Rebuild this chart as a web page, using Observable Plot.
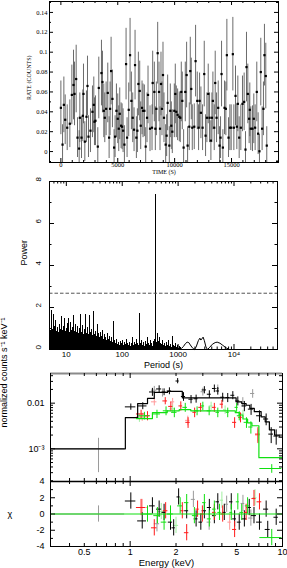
<!DOCTYPE html>
<html>
<head>
<meta charset="utf-8">
<script src="https://cdn.jsdelivr.net/npm/d3@7"></script>
<script src="https://cdn.jsdelivr.net/npm/@observablehq/plot@0.6"></script>
<style>
html,body{margin:0;padding:0;background:#fff;}
body{width:287px;height:568px;position:relative;overflow:hidden;}
.panel{position:absolute;left:0;width:287px;}
svg text{fill:#000;}
</style>
</head>
<body>
<div id="lc" class="panel" style="top:0px"></div>
<div id="psd" class="panel" style="top:172px"></div>
<div id="spec" class="panel" style="top:368px"></div>
<div id="res" class="panel" style="top:481px"></div>
<script>
// ---------------- Light curve data ----------------
const lcTime = [0,146,263,380,556,789,965,1111,1199,1345,
  1462,1608,1667,1813,1930,1988,2105,2251,2339,2427,
  2602,2778,2895,2953,3041,3246,3333,3567,3655,3772,
  3860,3977,4123,4240,4327,4415,4532,4678,4766,4883,
  5000,5088,5175,5292,5380,5468,5585,5731,5819,5965,
  6082,6199,6316,6433,6520,6637,6725,6813,6930,7018,
  7135,7222,7339,7456,7573,7661,7836,8012,8070,8216,
  8304,8392,8509,8626,8714,8801,8889,8977,9064,9211,
  9298,9386,9532,9620,9708,9795,9971,10058,10146,10263,
  10409,10497,10585,10673,10789,10936,11053,11140,11287,11374,
  11462,11550,11725,11842,11988,12105,12193,12310,12456,12602,
  12719,12836,12953,13070,13187,13275,13363,13480,13567,13684,
  13830,13947,14035,14123,14240,14386,14503,14591,14737,14854,
  14971,15117,15205,15351,15468,15556,15673,15819,15965,16111,
  16228,16316,16433,16550,16608,16696,16842,16959,17076,17222,
  17339,17456,17573,17690,17807,17895,18012,18099];
const lcRate = [.044,.007,.047,.032,.024,.028,.057,.067,.058,.073,
  .014,.003,.034,.014,.036,.058,.010,.035,.066,.015,
  .021,.040,.047,.030,.031,.005,.064,.079,.070,.041,
  .034,.043,.059,.014,.043,.081,.053,.004,.015,.041,
  .033,.023,.038,.026,.025,.021,.007,.088,.014,.042,
  .097,.051,.034,.022,.087,.014,.021,.068,.061,.026,
  .044,.041,.041,.005,.034,.057,.023,.024,.069,.060,
  .023,.043,.099,.060,.023,.068,.043,.077,.034,.007,
  .016,.049,.006,.041,.026,.020,.041,.058,.040,.037,
  .035,.034,.060,.051,.004,.060,.077,.006,.025,.081,
  .063,.024,.025,.091,.051,.024,.051,.039,.024,.078,
  .016,.034,.058,.034,.011,.034,.051,.024,.069,.034,
  .044,.006,.014,.078,.004,.044,.043,.097,.014,.024,
  .024,.098,.024,.056,.025,.048,.014,.024,.048,.050,
  .002,.085,.058,.033,.042,.023,.023,.033,.024,.060,
  .018,.0003,.080,.023,.043,.097,.076,.006];
const lcErr = [.027,.02,.028,.025,.023,.024,.03,.035,.032,.034,
  .02,.018,.025,.021,.026,.03,.02,.026,.03,.021,
  .022,.026,.028,.024,.025,.019,.031,.033,.031,.027,
  .025,.027,.03,.021,.027,.034,.029,.018,.021,.027,
  .025,.023,.026,.023,.023,.022,.019,.036,.02,.027,
  .037,.029,.025,.022,.035,.021,.022,.032,.03,.024,
  .027,.027,.026,.019,.025,.029,.023,.023,.032,.03,
  .022,.027,.031,.03,.022,.032,.027,.033,.025,.02,
  .021,.028,.019,.027,.024,.022,.027,.03,.026,.026,
  .025,.025,.03,.029,.018,.03,.033,.019,.024,.034,
  .031,.023,.023,.036,.029,.023,.028,.026,.023,.033,
  .021,.025,.03,.025,.02,.025,.029,.023,.032,.025,
  .027,.019,.021,.033,.018,.027,.027,.036,.02,.023,
  .023,.037,.023,.03,.023,.028,.021,.023,.028,.029,
  .018,.035,.03,.025,.027,.022,.023,.025,.023,.03,
  .021,.017,.034,.022,.027,.031,.033,.019];
const lcXTicks = [0, 5000, 10000, 15000];
const lcXTickLabels = ["0", "5000", "10000", "15000"];
const lcYTicks = [0, 0.02, 0.04, 0.06, 0.08, 0.1, 0.12, 0.14];
const lcYTickLabels = ["0", "0.02", "0.04", "0.06", "0.08", "0.1", "0.12", "0.14"];

// ---------------- Periodogram data ----------------
const psdPeriod = [5,5.21,5.43,5.66,5.9,6.14,6.4,6.67,6.95,7.24,
  7.55,7.86,8.19,8.54,8.9,9.27,9.66,10.07,10.5,10.9,
  11.4,11.9,12.4,12.9,13.4,14,14.6,15.2,15.8,16.5,
  17.2,17.9,18.7,19.5,20.3,21.1,22,22.9,23.9,24.9,
  25.9,27,28.2,29.4,30.6,31.9,33.2,34.6,36.1,37.6,
  39.2,40.8,42.5,44.3,46.2,48.1,50.1,52.2,54.4,56.7,
  59.1,61.6,64.2,66.9,69.7,72.6,75.6,78.8,82.1,85.6,
  89.2,92.9,96.8,100.9,105,110,114,119,124,129,
  135,140,146,152,159,165,172,180,187,195,
  203,212,221,230,240,250,260,271,283,295,
  307,320,333,347,362,377,393,409,427,444,
  463,483,503,524,546,569,593,618,644,671,
  699,728,759,791,824,859,895,932,971,1012,
  1055,1099];
const psdPower = [1.05,0.9,1.86,0.95,1.67,1.1,1.4,0.85,1.05,0.8,
  1.2,0.95,1.57,0.9,1.1,1.46,0.85,1.0,1.25,1.46,
  0.8,1.3,0.9,1.05,1.62,0.85,1.2,0.8,1.1,0.75,
  1.0,1.67,0.8,1.15,0.7,0.95,1.67,0.75,1.05,0.7,
  1.62,0.8,0.95,0.65,1.83,0.7,0.85,0.6,1.17,0.75,
  0.55,0.8,0.6,0.9,0.5,0.7,0.55,0.45,0.75,0.5,
  0.6,0.4,0.55,0.35,1.35,0.45,0.3,0.5,0.25,0.35,
  0.2,0.4,0.3,0.45,0.2,0.35,0.25,0.5,0.3,0.2,
  0.35,0.15,0.3,0.55,0.2,0.35,0.25,0.5,0.3,0.2,
  1.73,0.3,0.45,0.2,0.35,0.15,0.4,0.25,0.55,0.3,
  0.2,0.45,0.3,0.15,0.4,0.5,7.4,0.35,0.75,0.4,
  0.55,0.3,0.25,0.45,0.2,0.3,0.15,0.35,0.2,0.45,
  0.15,0.25,0.1,0.6,0.2,0.15,0.3,0.1,0.2,0.05,
  0.15,0.1];
const psdSmoothPeriod = [1099,1150,1250,1350,1450,1550,1650,1800,1950,2100,2300,2450,2550,2650,2800,2950,3150,3350,3600,4100,4600,5000,5600,6300,7200,8300,9500,60000];
const psdSmoothPower = [0.1,0.05,0.15,0.28,0.35,0.33,0.22,0.08,0.0,0.12,0.42,0.54,0.45,0.5,0.59,0.42,0.12,0.0,0.08,0.25,0.33,0.35,0.3,0.2,0.08,0.0,0,0];
const psdThreshold = 2.68;
const psdXTicks = [10, 100, 1000, 10000];
const psdXTickLabels = ["10", "100", "1000", "10\u2074"];
const psdYTicks = [0, 2, 4, 6, 8];
const psdYTickLabels = ["0", "2", "4", "6", "8"];

// ---------------- Spectrum data ----------------
const blackE  = [1.01,1.21,1.40,1.55,1.67,1.81,2.05,2.24,2.51,2.71,3.07,3.31,3.57,3.76,4.05,4.37,4.72,5.09,5.62,6.22,7.06,7.81,8.43,9.09];
const blackDE = [.08,.08,.06,.06,.05,.06,.05,.07,.08,.08,.1,.1,.1,.1,.12,.12,.14,.15,.2,.25,.3,.3,.3,.3];
const blackV  = [.0083,.0087,.0176,.0205,.0176,.0185,.0306,.014,.0122,.0125,.0195,.0157,.021,.0185,.0135,.0133,.0149,.0112,.0087,.0074,.0053,.0045,.0021,.0019];
const blackDV = [.0013,.0015,.0035,.0035,.003,.0032,.004,.003,.0025,.0025,.0035,.003,.004,.0035,.003,.003,.003,.0025,.0022,.002,.0015,.0013,.0008,.0007];
const redE  = [1.18,1.30,1.70,1.85,2.15,2.40,2.65,2.90,3.57,4.00,4.85,5.30,6.90];
const redDE = [.08,.06,.06,.06,.06,.08,.07,.08,.1,.1,.15,.15,.25];
const redV  = [.0058,.0053,.0112,.0085,.0087,.0038,.0063,.0081,.0081,.0095,.0038,.0049,.0021];
const redDV = [.0012,.0012,.002,.002,.002,.001,.0015,.0018,.0018,.002,.001,.0012,.0008];
const greenE  = [1.24,1.50,1.72,1.95,2.30,2.75,3.00,3.30,3.76,4.37,5.00,5.20,5.80,6.20,8.5];
const greenDE = [.1,.08,.07,.08,.08,.08,.08,.1,.1,.1,.12,.15,.2,.2,1.4];
const greenV  = [.0053,.0058,.0068,.0063,.0081,.0068,.0087,.0068,.0063,.0063,.0081,.0053,.0038,.0030,.00037];
const greenDV = [.001,.0012,.0015,.0015,.0018,.0015,.0018,.0015,.0015,.0015,.0018,.0012,.001,.0009,.00008];
// faint (thin) crosses
const faintBlackE  = [0.62,1.44,1.63,3.0,3.76,5.49,6.37];
const faintBlackDE = [0.3,.06,.06,.08,.1,.15,.2];
const faintBlackV  = [0.001,.0193,.0171,.0178,.021,.0107,.0163];
const faintBlackDV = [0.0007,.004,.0035,.0035,.004,.0025,.0035];
const faintRedE  = [1.2,1.44,1.9,2.39,6.9];
const faintRedDE = [.1,.06,.06,.08,.25];
const faintRedV  = [.005,.0107,.0107,.0042,.002];
const faintRedDV = [.001,.002,.002,.001,.0006];
const faintGreenE  = [1.15,1.9,3.4,4.2,5.5];
const faintGreenDE = [.1,.08,.1,.1,.15];
const faintGreenV  = [.0048,.0075,.0087,.0072,.0058];
const faintGreenDV = [.001,.0015,.0018,.0015,.0012];
// models (step)
const blackModelE = [0.3,0.93,1.12,1.3,1.44,1.76,2.2,2.84,4.96,5.4,5.77,6.1,6.53,7.24,7.7,8.2,8.87,9.5,10];
const blackModelV = [0.001,0.0048,0.0098,0.0127,0.0172,0.0182,0.0131,0.0131,0.0107,0.0098,0.009,0.0077,0.0065,0.005,0.0039,0.0026,0.002,0.0018,0.0018];
const greenModelE = [1.1,1.4,1.75,2.1,2.5,4.9,5.2,5.5,5.9,6.3,7.0,10];
const greenModelV = [0.0046,0.0062,0.0068,0.0072,0.0068,0.0062,0.0055,0.0045,0.0037,0.0032,0.00064,0.00064];
const specYTicks = [0.001, 0.01];
const specYTickLabels = ["10\u207B\u00B3", "0.01"];
const energyTicks = [0.5, 1, 2, 5, 10];
const energyTickLabels = ["0.5", "1", "2", "5", "10"];

// ---------------- Residuals ----------------
const resBlackE = [1.01,1.2,1.40,1.55,1.67,1.84,1.93,2.08,2.35,2.71,2.91,3.07,3.31,3.57,3.76,4.15,4.61,4.85,5.2,5.62,6.05,6.5,7.06,7.81,8.0,9.09];
const resBlackDE = [.08,.08,.06,.06,.05,.06,.05,.05,.07,.08,.08,.1,.1,.1,.1,.12,.12,.14,.15,.2,.2,.25,.3,.3,.3,.3];
const resBlackChi = [1.6,-0.85,1.0,0.6,0.2,-1.0,-1.7,2.1,0.4,-0.6,-1.0,0.4,0.8,-0.2,1.5,0.2,1.5,-0.6,-1.0,-0.6,0.8,-0.2,-1.0,0.6,-1.9,-0.4];
const resRedE = [1.18,1.44,1.71,2.2,2.35,2.77,2.98,3.57,4.05,4.85,5.77,6.5,7.06];
const resRedDE = [.08,.06,.06,.06,.08,.07,.08,.1,.1,.15,.15,.2,.25];
const resRedChi = [0.8,-1.7,0.4,0.4,-2.3,0.6,0,0.2,0,-1.9,0.2,1.9,1.5];
const resGreenE = [1.3,1.51,1.67,1.84,2.13,2.35,2.64,3.07,3.31,3.57,3.86,4.61,5.09,5.4,5.9,8.5];
const resGreenDE = [.1,.08,.07,.08,.08,.08,.08,.08,.1,.1,.1,.1,.12,.15,.2,1.4];
const resGreenChi = [0,-0.2,-1.0,0,1.0,1.4,-0.2,1.4,-0.6,0.6,0.2,0.2,1.5,0.2,1.0,-2.9];
const resFaintBlackE = [0.62,1.5,2.6,3.3,4.3,5.5,6.2];
const resFaintBlackDE = [0.3,.06,.08,.1,.12,.15,.2];
const resFaintBlackChi = [0,-1.2,1.8,-1.0,1.2,1.3,-0.5];
const resFaintRedE = [1.2,4.5];
const resFaintRedDE = [.1,.12];
const resFaintRedChi = [0.8,-1.0];
const resFaintGreenE = [1.6,2.0,4.0,6.6];
const resFaintGreenDE = [.07,.08,.1,.2];
const resFaintGreenChi = [0.3,-1.4,1.7,2.0];
const resYTicks = [-4, -2, 0, 2, 4];
const resYTickLabels = ["-4", "-2", "0", "2", "4"];

// ---------------- helpers ----------------
const W = 287;
const SERIF = "'Liberation Serif', 'DejaVu Serif', serif";
const SANS = "'Liberation Sans', Arial, Helvetica, sans-serif";
const RED = "#ff1a1a", GREEN = "#10e010";
function styleFor(font, size) {
  return {background: "transparent", overflow: "visible", fontFamily: font, fontSize: size + "px", color: "black"};
}
function ticksX(vals, len, fh, sides, extra = {}) {
  const out = [];
  if (sides.includes("b")) out.push(Plot.tickX(vals, {x: d => d, insetTop: fh - len, stroke: "black", ...extra}));
  if (sides.includes("t")) out.push(Plot.tickX(vals, {x: d => d, insetBottom: fh - len, stroke: "black", ...extra}));
  return out;
}
function ticksY(vals, len, fw, sides, extra = {}) {
  const out = [];
  if (sides.includes("l")) out.push(Plot.tickY(vals, {y: d => d, insetRight: fw - len, stroke: "black", ...extra}));
  if (sides.includes("r")) out.push(Plot.tickY(vals, {y: d => d, insetLeft: fw - len, stroke: "black", ...extra}));
  return out;
}
function logMinor(lo, hi, majors) {
  const out = [];
  for (let e = -4; e <= 5; e++) for (let m = 1; m <= 9; m++) {
    const v = +(m * Math.pow(10, e)).toPrecision(6);
    if (v >= lo && v <= hi && !majors.includes(v)) out.push(v);
  }
  return out;
}
function crosses(E, DE, V, DV, color, width = 1) {
  const idx = d3.range(E.length);
  return [
    Plot.ruleX(idx, {x: i => E[i], y1: i => Math.max(V[i] - DV[i], 1e-6), y2: i => V[i] + DV[i], stroke: color, strokeWidth: width, clip: true}),
    Plot.ruleY(idx, {y: i => V[i], x1: i => E[i] - DE[i], x2: i => E[i] + DE[i], stroke: color, strokeWidth: width, clip: true})
  ];
}
function resCrosses(E, DE, C, color, width = 1) {
  const idx = d3.range(E.length);
  return [
    Plot.ruleX(idx, {x: i => E[i], y1: i => C[i] - 1, y2: i => C[i] + 1, stroke: color, strokeWidth: width, clip: true}),
    Plot.ruleY(idx, {y: i => C[i], x1: i => E[i] - DE[i], x2: i => E[i] + DE[i], stroke: color, strokeWidth: width, clip: true})
  ];
}

// ---------------- Panel 1: light curve ----------------
{
  const H = 176, mT = 1, mB = 14, mL = 49, mR = 9;
  const fw = W - mL - mR, fh = H - mT - mB;
  const idx = d3.range(lcTime.length);
  const xMinor = d3.range(0, 20).map(k => k * 1000).filter(v => v % 5000 !== 0);
  const yMinor = d3.range(-1, 16).filter(k => k % 2 !== 0).map(k => k / 100);
  const plot = Plot.plot({
    width: W, height: H, marginTop: mT, marginBottom: mB, marginLeft: mL, marginRight: mR,
    style: styleFor(SERIF, 6.5),
    x: {domain: [-1000, 19130], axis: null},
    y: {domain: [-0.011, 0.151], axis: null},
    marks: [
      Plot.ruleX(idx, {x: i => lcTime[i], y1: i => lcRate[i] - lcErr[i], y2: i => lcRate[i] + lcErr[i], stroke: "#5a5a5a", strokeWidth: 0.9, clip: true}),
      Plot.dot(idx, {x: i => lcTime[i], y: i => lcRate[i], symbol: "square", r: 1.25, fill: "black", stroke: "none"}),
      Plot.frame({stroke: "black"}),
      ...ticksX(lcXTicks, 4, fh, "bt"),
      ...ticksX(xMinor, 2, fh, "bt"),
      ...ticksY(lcYTicks, 4, fw, "lr"),
      ...ticksY(yMinor, 2, fw, "lr"),
      Plot.text(lcXTicks, {x: d => d, text: (d, i) => lcXTickLabels[i], frameAnchor: "bottom", lineAnchor: "top", dy: 0, fill: "black"}),
      Plot.text(lcYTicks, {y: d => d, text: (d, i) => lcYTickLabels[i], frameAnchor: "left", textAnchor: "end", dx: -2, fill: "black"}),
      Plot.text(["TIME (S)"], {text: d => d, frameAnchor: "bottom", dy: 11.5, fontSize: 6, fill: "black"}),
      Plot.text(["RATE (COUNTS)"], {text: d => d, frameAnchor: "left", rotate: -90, dx: -20, dy: 18, fontSize: 6, fill: "black"})
    ]
  });
  document.getElementById("lc").append(plot);
}

// ---------------- Panel 2: periodogram ----------------
{
  const H = 198, mT = 9, mB = 21, mL = 49, mR = 10;
  const fw = W - mL - mR, fh = H - mT - mB;
  const idx = d3.range(Math.min(psdPeriod.length, psdPower.length));
  const sIdx = d3.range(psdSmoothPeriod.length);
  const xMinor = logMinor(5, 60000, psdXTicks);
  const plot = Plot.plot({
    width: W, height: H, marginTop: mT, marginBottom: mB, marginLeft: mL, marginRight: mR,
    style: styleFor(SANS, 8),
    x: {type: "log", domain: [5, 60000], axis: null},
    y: {domain: [0, 8], axis: null},
    marks: [
      Plot.ruleX(idx, {x: i => psdPeriod[i], y1: 0, y2: i => psdPower[i], stroke: "black", strokeWidth: 1, shapeRendering: "crispEdges"}),
      Plot.line(sIdx, {x: i => psdSmoothPeriod[i], y: i => psdSmoothPower[i], stroke: "black", strokeWidth: 1}),
      Plot.ruleY([psdThreshold], {y: d => d, stroke: "#555", strokeWidth: 1, strokeDasharray: "3.5,2"}),
      Plot.frame({stroke: "black"}),
      ...ticksX(psdXTicks, 5, fh, "bt"),
      ...ticksX(xMinor, 2.5, fh, "bt"),
      ...ticksY(psdYTicks, 5, fw, "lr"),
      ...ticksY([1, 3, 5, 7], 2.5, fw, "lr"),
      Plot.text(psdXTicks, {x: d => d, text: (d, i) => psdXTickLabels[i], frameAnchor: "bottom", lineAnchor: "top", dy: 2}),
      Plot.text(psdYTicks, {y: d => d, text: (d, i) => psdYTickLabels[i], frameAnchor: "left", rotate: -90, dx: -11}),
      Plot.text(["Period (s)"], {text: d => d, frameAnchor: "bottom", dy: 18, fontSize: 9}),
      Plot.text(["Power"], {text: d => d, frameAnchor: "left", rotate: -90, dx: -25, fontSize: 9})
    ]
  });
  document.getElementById("psd").append(plot);
}

// ---------------- Panel 3: spectrum ----------------
const eMinor = logMinor(0.3, 10, [1, 10]);
{
  const H = 113, mT = 5, mB = 0, mL = 50, mR = 5;
  const fw = W - mL - mR, fh = H - mT - mB;
  const yMinor = logMinor(1.92e-4, 0.0447, specYTicks);
  const bm = d3.range(blackModelE.length), gm = d3.range(greenModelE.length);
  const plot = Plot.plot({
    width: W, height: H, marginTop: mT, marginBottom: mB, marginLeft: mL, marginRight: mR,
    style: styleFor(SANS, 9),
    x: {type: "log", domain: [0.3, 10], axis: null},
    y: {type: "log", domain: [1.92e-4, 0.0447], axis: null},
    marks: [
      ...crosses(faintBlackE, faintBlackDE, faintBlackV, faintBlackDV, "#9a9a9a"),
      ...crosses(faintRedE, faintRedDE, faintRedV, faintRedDV, "#ff9a9a"),
      ...crosses(faintGreenE, faintGreenDE, faintGreenV, faintGreenDV, "#a0f0a0"),
      ...crosses(blackE, blackDE, blackV, blackDV, "black"),
      ...crosses(redE, redDE, redV, redDV, RED),
      ...crosses(greenE, greenDE, greenV, greenDV, GREEN),
      Plot.line(bm, {x: i => blackModelE[i], y: i => blackModelV[i], curve: "step-after", stroke: "black", strokeWidth: 1.2}),
      Plot.line(gm, {x: i => greenModelE[i], y: i => greenModelV[i], curve: "step-after", stroke: GREEN, strokeWidth: 1.2}),
      Plot.frame({stroke: "black"}),
      Plot.ruleY([0.0447], {y: d => d, stroke: "#8a8a8a", strokeWidth: 2}),
      ...ticksX([1, 10], 5, fh, "bt"),
      ...ticksX(eMinor, 3, fh, "bt"),
      ...ticksY(specYTicks, 5, fw, "lr"),
      ...ticksY(yMinor, 3, fw, "lr"),
      Plot.text(specYTicks, {y: d => d, text: (d, i) => specYTickLabels[i], frameAnchor: "left", textAnchor: "end", dx: -6}),
      Plot.text(["normalized counts s\u207B\u00B9 keV\u207B\u00B9"], {text: d => d, frameAnchor: "left", rotate: -90, dx: -46, fontSize: 9})
    ]
  });
  document.getElementById("spec").append(plot);
}

// ---------------- Panel 4: residuals ----------------
{
  const H = 87, mT = 0, mB = 22, mL = 50, mR = 5;
  const fw = W - mL - mR, fh = H - mT - mB;
  const plot = Plot.plot({
    width: W, height: H, marginTop: mT, marginBottom: mB, marginLeft: mL, marginRight: mR,
    style: styleFor(SANS, 9),
    x: {type: "log", domain: [0.3, 10], axis: null},
    y: {domain: [-4, 4], axis: null},
    marks: [
      ...resCrosses(resFaintBlackE, resFaintBlackDE, resFaintBlackChi, "#9a9a9a"),
      ...resCrosses(resFaintRedE, resFaintRedDE, resFaintRedChi, "#ff9a9a"),
      ...resCrosses(resFaintGreenE, resFaintGreenDE, resFaintGreenChi, "#a0f0a0"),
      ...resCrosses(resBlackE, resBlackDE, resBlackChi, "black"),
      ...resCrosses(resRedE, resRedDE, resRedChi, RED),
      ...resCrosses(resGreenE, resGreenDE, resGreenChi, GREEN),
      Plot.ruleY([0], {y: d => d, stroke: GREEN, strokeWidth: 1.2}),
      Plot.frame({stroke: "black"}),
      Plot.ruleY([4], {y: d => d, stroke: "black", strokeWidth: 1.5}),
      ...ticksX([1, 10], 5, fh, "bt"),
      ...ticksX(eMinor, 3, fh, "bt"),
      ...ticksY(resYTicks, 5, fw, "lr"),
      ...ticksY([-3, -1, 1, 3], 3, fw, "lr"),
      Plot.text(energyTicks, {x: d => d, text: (d, i) => energyTickLabels[i], frameAnchor: "bottom", lineAnchor: "top", dy: 2}),
      Plot.text(resYTicks, {y: d => d, text: (d, i) => resYTickLabels[i], frameAnchor: "left", textAnchor: "end", dx: -6}),
      Plot.text(["Energy (keV)"], {text: d => d, frameAnchor: "bottom", dy: 19, fontSize: 9.5}),
      Plot.text(["\u03C7"], {text: d => d, frameAnchor: "left", dx: -43, fontSize: 9})
    ]
  });
  document.getElementById("res").append(plot);
}
</script>
</body>
</html>
